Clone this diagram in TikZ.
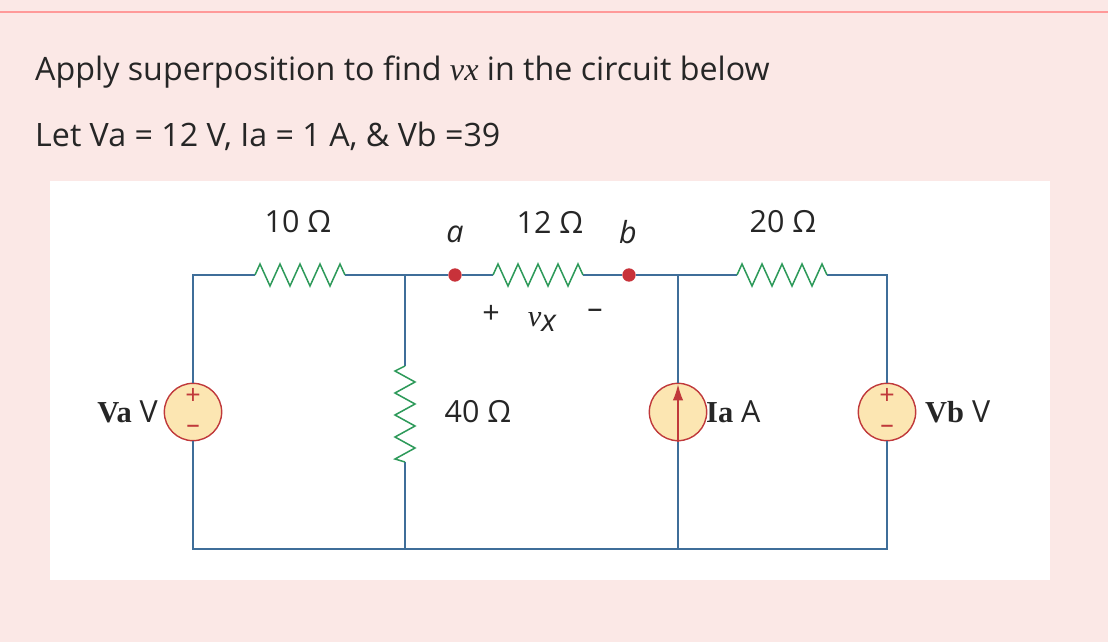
\documentclass[tikz,border=0pt]{standalone}
\usepackage{fontspec}
\usetikzlibrary{arrows.meta}
\setmainfont{Open Sans}
\newfontfamily\timesf{Liberation Serif}
\begin{document}
\begin{tikzpicture}[x=0.03cm,y=-0.03cm,
  wire/.style={draw=wireblue,line width=1.3pt},
  res/.style={draw=resgreen,line width=1.3pt,line join=miter},
  src/.style={circle,draw=srcred,fill=srcfill,line width=1.2pt,minimum size=1.72cm,inner sep=0pt},
  lbl/.style={font=\fontsize{26}{30}\selectfont,text=black!85,inner sep=0pt},
  sgn/.style={text=srcred,font=\fontsize{23}{23}\selectfont,inner sep=0pt},
  dot/.style={circle,fill=dotred,inner sep=0pt,minimum size=0.4cm}]
\definecolor{wireblue}{HTML}{3F6E99}
\definecolor{resgreen}{HTML}{2E9A5A}
\definecolor{srcred}{HTML}{C0393B}
\definecolor{srcfill}{HTML}{FCE6B2}
\definecolor{dotred}{HTML}{C8323A}
\definecolor{bgpink}{HTML}{FBE8E6}
\fill[bgpink] (0,0) rectangle (1108,642);
\useasboundingbox (0,0) rectangle (1108,642);
\draw[color=red!40,line width=1pt] (0,12) -- (1108,12);
\fill[white] (50,181) rectangle (1050,580);
\node[anchor=base west,inner sep=0pt,font=\fontsize{27.5}{32}\selectfont,text=black!85] (t1) at (35,80) {Apply superposition to find \textit{\timesf vx} in the circuit below};
\node[anchor=base west,inner sep=0pt,font=\fontsize{27.5}{32}\selectfont,text=black!85] (t2) at (35,146) {Let Va = 12 V, Ia = 1 A, \& Vb =39};
% coordinates
\coordinate (tl) at (193,275); \coordinate (bl) at (193,549);
\coordinate (tm) at (405,275); \coordinate (bm) at (405,549);
\coordinate (ti) at (678,275); \coordinate (bi) at (678,549);
\coordinate (tr) at (887,275); \coordinate (br) at (887,549);
\node[dot] (a) at (455,275) {};
\node[dot] (b) at (629,275) {};
\node[src] (Va) at (193,412) {};
\node[src] (Ia) at (678,412) {};
\node[src] (Vb) at (887,412) {};
% resistor ends
\coordinate (r1a) at (255,275); \coordinate (r1b) at (345,275);
\coordinate (r2a) at (493,275); \coordinate (r2b) at (583,275);
\coordinate (r3a) at (737,275); \coordinate (r3b) at (827,275);
\coordinate (r4a) at (405,366); \coordinate (r4b) at (405,462);
% wires
\draw[wire] (Va.north) -- (tl) -- (r1a);
\draw[wire] (r1b) -- (tm) -- (a) -- (r2a);
\draw[wire] (r2b) -- (b) -- (ti) -- (r3a);
\draw[wire] (r3b) -- (tr) -- (Vb.north);
\draw[wire] (tm) -- (r4a);
\draw[wire] (r4b) -- (bm);
\draw[wire] (ti) -- (Ia.north);
\draw[wire] (Va.south) -- (bl) -- (br) -- (Vb.south);
\draw[wire] (Ia.south) -- (bi);
% resistors
\draw[res] (r1a) -- ++(5,-11) -- ++(10,22) -- ++(10,-22) -- ++(10,22) -- ++(10,-22) -- ++(10,22) -- ++(10,-22) -- ++(10,22) -- ++(10,-22) -- (r1b);
\draw[res] (r2a) -- ++(5,-11) -- ++(10,22) -- ++(10,-22) -- ++(10,22) -- ++(10,-22) -- ++(10,22) -- ++(10,-22) -- ++(10,22) -- ++(10,-22) -- (r2b);
\draw[res] (r3a) -- ++(5,-11) -- ++(10,22) -- ++(10,-22) -- ++(10,22) -- ++(10,-22) -- ++(10,22) -- ++(10,-22) -- ++(10,22) -- ++(10,-22) -- (r3b);
\draw[res] (r4a) -- ++(-10,5) -- ++(20,11) -- ++(-20,11) -- ++(20,11) -- ++(-20,11) -- ++(20,11) -- ++(-20,11) -- ++(20,11) -- ++(-20,11) -- (r4b);
% source symbols
\node[sgn] (p1) at (193,396) {+};
\node[sgn] (m1) at (193,429) {–};
\node[sgn] (p2) at (887,396) {+};
\node[sgn] (m2) at (887,429) {–};
\draw[srcred,line width=1.8pt,-{Latex[length=14pt,width=9pt]}] (678,442) -- (678,384);
% labels
\node[lbl] (l10) at (298,222) {10 Ω};
\node[lbl] (l12) at (550,222) {12 Ω};
\node[lbl] (l20) at (783,222) {20 Ω};
\node[lbl] (l40) at (478,412) {40 Ω};
\node[lbl,font=\fontsize{26}{30}\itshape] (la) at (455,234) {a};
\node[lbl,font=\fontsize{26}{30}\itshape] (lb) at (628,232) {b};
\node[lbl] (lp) at (491,314) {+};
\node[lbl] (lv) at (542,322) {{\timesf\itshape v}\raisebox{-0.3ex}{\itshape x}};
\node[lbl] (lm) at (595,314) {–};
\node[lbl,anchor=east] (lva) at (158,412) {{\timesf\bfseries Va} V};
\node[lbl,anchor=west] (lia) at (706,412) {{\timesf\bfseries Ia} A};
\node[lbl,anchor=west] (lvb) at (925,412) {{\timesf\bfseries Vb} V};
\end{tikzpicture}
\end{document}
